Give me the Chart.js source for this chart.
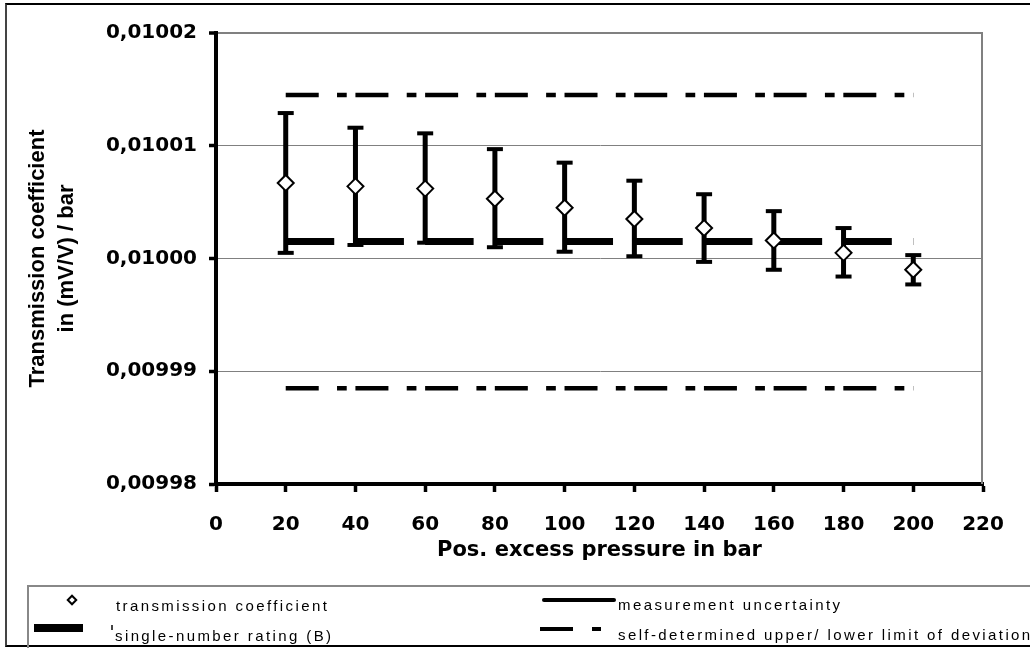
<!DOCTYPE html>
<html>
<head>
<meta charset="utf-8">
<script src="https://cdn.jsdelivr.net/npm/chart.js@4.4.1/dist/chart.umd.min.js"></script>
<style>
  body { margin: 0; background: #fff; }
  #wrap { position: relative; width: 1030px; height: 648px; overflow: hidden; background: #fff; }
  #chart { position: absolute; left: 0; top: 0; }
  .frame { position: absolute; left: 5px; top: 3px; width: 1030px; height: 640px;
           border-left: 2px solid #444; border-top: 2px solid #000; border-bottom: 2px solid #000; }
  .legendBox { position: absolute; left: 27px; top: 585px; width: 1010px; height: 70px;
               border-left: 2px solid #888; border-top: 2px solid #888; }
  .lg { position: absolute; font-family: "Liberation Sans", Arial, sans-serif; font-size: 15px;
        letter-spacing: 2.4px; color: #000; line-height: 18px; white-space: nowrap; }
  .sw { position: absolute; background: #000; }
</style>
</head>
<body>
<div id="wrap">
  <canvas id="chart" width="1030" height="648"></canvas>
  <div class="frame"></div>
  <div class="legendBox"></div>

  <!-- legend -->
  <div style="position:absolute;left:68px;top:596px;width:4px;height:4px;border:2px solid #000;background:#fff;transform:rotate(45deg);"></div>
  <div class="lg" style="left:116px;top:597px;">transmission coefficient</div>

  <div class="sw" style="left:542px;top:598px;width:74px;height:4px;border-radius:2px;"></div>
  <div class="lg" style="left:618px;top:596px;">measurement uncertainty</div>

  <div class="sw" style="left:34px;top:624px;width:49px;height:8px;"></div>
  <div class="sw" style="left:111px;top:625px;width:2px;height:5px;background:#444;"></div>
  <div class="lg" style="left:115px;top:627px;">single-number rating (B)</div>

  <div class="sw" style="left:540px;top:627px;width:33px;height:4px;"></div>
  <div class="sw" style="left:592px;top:627px;width:9px;height:4px;"></div>
  <div class="lg" style="left:618px;top:626px;">self-determined upper/ lower limit of deviation</div>
</div>

<script>
// values
const pressure = [20, 40, 60, 80, 100, 120, 140, 160, 180, 200];
const coefficient = [0.0100067, 0.0100064, 0.0100062, 0.0100053, 0.0100045,
                     0.0100035, 0.0100027, 0.0100016, 0.0100005, 0.0099990];
const upperUnc = [0.0100129, 0.0100116, 0.0100111, 0.0100097, 0.0100085,
                  0.0100069, 0.0100057, 0.0100042, 0.0100027, 0.0100003];
const lowerUnc = [0.0100005, 0.0100012, 0.0100014, 0.0100010, 0.0100006,
                  0.0100002, 0.0099997, 0.0099990, 0.0099984, 0.0099977];
const ratingB = 0.0100015;
const upperLimit = 0.0100145;
const lowerLimit = 0.0099885;

const xTicks = [0, 20, 40, 60, 80, 100, 120, 140, 160, 180, 200, 220];
const yTicks = [0.00998, 0.00999, 0.01000, 0.01001, 0.01002];

const xFirst = pressure[0];
const xLast = pressure[pressure.length - 1];

// vertical error bars as one broken line
const barPts = [];
pressure.forEach((p, i) => {
  barPts.push({ x: p, y: lowerUnc[i] }, { x: p, y: upperUnc[i] }, { x: p, y: null });
});

const capPts = pressure.map((p, i) => ({ x: p, y: upperUnc[i] }))
  .concat(pressure.map((p, i) => ({ x: p, y: lowerUnc[i] })));

const plotFrame = {
  id: "plotFrame",
  beforeDatasetsDraw(chart) {
    const { ctx, chartArea: a } = chart;
    ctx.save();
    ctx.strokeStyle = "#808080";
    ctx.lineWidth = 2;
    ctx.beginPath();
    ctx.moveTo(a.right - 1, a.top);
    ctx.lineTo(a.right - 1, a.bottom);
    ctx.stroke();
    ctx.restore();
  }
};

const tickFont = { family: "DejaVu Sans", size: 20, weight: "bold" };

new Chart(document.getElementById("chart"), {
  type: "scatter",
  data: {
    datasets: [
      {
        label: "transmission coefficient",
        data: pressure.map((p, i) => ({ x: p, y: coefficient[i] })),
        pointStyle: "rectRot",
        pointRadius: 8,
        pointBackgroundColor: "#fff",
        pointBorderColor: "#000",
        pointBorderWidth: 2,
        showLine: false
      },
      {
        label: "caps",
        data: capPts,
        pointStyle: "line",
        pointRadius: 8,
        pointBorderColor: "#000",
        pointBorderWidth: 4,
        showLine: false
      },
      {
        label: "measurement uncertainty",
        data: barPts,
        showLine: true,
        spanGaps: false,
        borderColor: "#000",
        borderWidth: 5,
        pointRadius: 0
      },
      {
        label: "single-number rating (B)",
        data: [{ x: xFirst, y: ratingB }, { x: xLast, y: ratingB }],
        showLine: true,
        borderColor: "#000",
        borderWidth: 7,
        borderDash: [48.5, 21.2],
        pointRadius: 0
      },
      {
        label: "upper limit",
        data: [{ x: xFirst, y: upperLimit }, { x: xLast, y: upperLimit }],
        showLine: true,
        borderColor: "#000",
        borderWidth: 4.5,
        borderDash: [33, 18.3, 9.7, 8.7],
        pointRadius: 0
      },
      {
        label: "lower limit",
        data: [{ x: xFirst, y: lowerLimit }, { x: xLast, y: lowerLimit }],
        showLine: true,
        borderColor: "#000",
        borderWidth: 4.5,
        borderDash: [33, 18.3, 9.7, 8.7],
        pointRadius: 0
      }
    ]
  },
  options: {
    responsive: false,
    animation: false,
    devicePixelRatio: 1,
    layout: { padding: { left: 0, right: 47, top: 33, bottom: 64 } },
    plugins: { legend: { display: false }, tooltip: { enabled: false } },
    scales: {
      x: {
        type: "linear",
        min: 0,
        max: 220,
        afterBuildTicks: s => { s.ticks = xTicks.map(v => ({ value: v })); },
        afterFit: s => { s.height = 100; },
        border: { color: "#000", width: 4 },
        grid: { drawOnChartArea: false, drawTicks: true, tickLength: 8, tickColor: "#000", tickWidth: 3.5 },
        ticks: { color: "#000", font: tickFont, padding: 21, maxRotation: 0 },
        title: {
          display: true,
          text: "Pos. excess pressure in bar",
          color: "#000",
          font: { family: "DejaVu Sans", size: 21, weight: "bold" },
          padding: { top: 0, bottom: 21 }
        }
      },
      y: {
        min: 0.00998,
        max: 0.01002,
        afterBuildTicks: s => { s.ticks = yTicks.map(v => ({ value: v })); },
        afterFit: s => { s.width = 216; },
        border: { color: "#000", width: 4 },
        grid: {
          color: "#808080",
          lineWidth: c => (c.index === yTicks.length - 1 ? 2 : 1),
          drawTicks: true, tickLength: 7, tickColor: "#000", tickWidth: 3.5
        },
        ticks: {
          color: "#000",
          font: tickFont,
          padding: 12,
          callback: v => v.toFixed(5).replace(".", ",")
        },
        title: {
          display: true,
          text: ["Transmission coefficient", "in (mV/V) / bar"],
          color: "#000",
          font: { family: "Liberation Sans", size: 22, weight: "bold", lineHeight: 1.34 },
          padding: { top: 23, bottom: 0 }
        }
      }
    }
  },
  plugins: [plotFrame]
});
</script>
</body>
</html>
